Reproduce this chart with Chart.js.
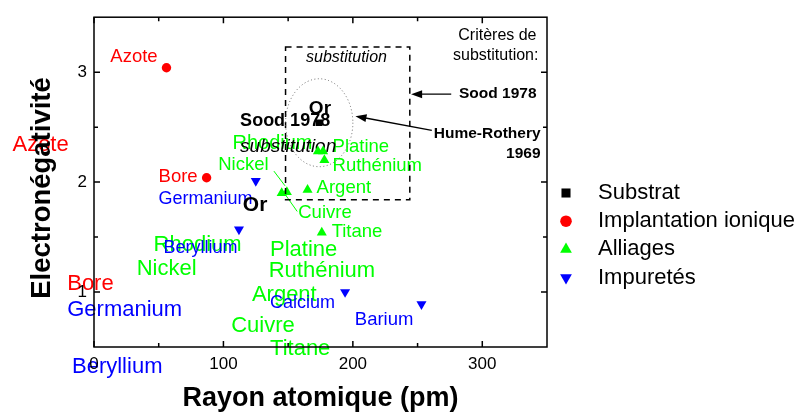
<!DOCTYPE html>
<html>
<head>
<meta charset="utf-8">
<script src="https://cdn.jsdelivr.net/npm/chart.js@4.4.1/dist/chart.umd.min.js"></script>
<style>
  body { margin: 0; background: #fff; }
  canvas { display: block; }
</style>
</head>
<body>
<canvas id="mainChart" width="801" height="414"></canvas>
<script>
var FONT = "'Liberation Sans', Arial, sans-serif";

// points: [rayon atomique (pm), electronegativite]
var substrat = [[174, 2.54]];
var implantation = [[56, 3.04], [87, 2.04]];
var alliages = [[173, 2.28], [177, 2.28], [178, 2.2], [165, 1.93], [145, 1.9], [149, 1.91], [176, 1.54]];
var impuretes = [[125, 2.01], [112, 1.57], [194, 1.0], [253, 0.89]];

var seriesNames = ['Substrat', 'Implantation ionique', 'Alliages', 'Impuretés'];
var seriesColors = ['#000000', '#ff0000', '#00ff00', '#0000ff'];

var xTicks = [0, 100, 200, 300];
var yTicks = [1, 2, 3];
var xMinor = [50, 150, 250];
var yMinor = [1.5, 2.5];

// text annotations: [text, x, y, color, font, align]
var labels = [
  ['Rhodium', 107, 2.35, '#00ff00', '20px'],
  ['Azote', -63, 2.334, '#ff0000', '22px'],
  ['Rhodium', 46, 1.43, '#00ff00', '22px'],
  ['Nickel', 33, 1.21, '#00ff00', '22px'],
  ['Platine', 136, 1.387, '#00ff00', '22px'],
  ['Ruthénium', 135, 1.195, '#00ff00', '22px'],
  ['Argent', 122, 0.972, '#00ff00', '22px'],
  ['Cuivre', 106, 0.69, '#00ff00', '22px'],
  ['Titane', 136, 0.484, '#00ff00', '22px'],
  ['Bore', -20.7, 1.076, '#ff0000', '22px'],
  ['Germanium', -20.7, 0.84, '#0000ff', '22px'],
  ['Beryllium', -17, 0.32, '#0000ff', '22px'],
  ['Azote', 12.6, 3.14, '#ff0000', '18.5px'],
  ['Bore', 49.9, 2.05, '#ff0000', '18.5px'],
  ['Germanium', 49.9, 1.845, '#0000ff', '18px'],
  ['Nickel', 96, 2.156, '#00ff00', '18.5px'],
  ['Platine', 184.3, 2.32, '#00ff00', '18.5px'],
  ['Ruthénium', 184.3, 2.147, '#00ff00', '18.5px'],
  ['Argent', 172, 1.95, '#00ff00', '18.5px'],
  ['Cuivre', 157.8, 1.72, '#00ff00', '18.5px'],
  ['Titane', 183.6, 1.55, '#00ff00', '18.5px'],
  ['Beryllium', 53.7, 1.40, '#0000ff', '18px'],
  ['Calcium', 136, 0.90, '#0000ff', '18px'],
  ['Barium', 201.5, 0.744, '#0000ff', '18.5px'],
  ['Sood 1978', 112.9, 2.556, '#000000', 'bold 18px'],
  ['substitution', 112.9, 2.325, '#000000', 'italic 19px'],
  ['Or', 166, 2.67, '#000000', 'bold 19px'],
  ['Or', 115, 1.787, '#000000', 'bold 21px'],
  ['substitution', 163.8, 3.133, '#000000', 'italic 16px'],
  ['Critères de', 341.9, 3.335, '#000000', '16px', 'right'],
  ['substitution:', 343.4, 3.148, '#000000', '16px', 'right'],
  ['Sood 1978', 341.9, 2.80, '#000000', 'bold 15.5px', 'right'],
  ['Hume-Rothery', 345, 2.438, '#000000', 'bold 15.5px', 'right'],
  ['1969', 345, 2.254, '#000000', 'bold 15.5px', 'right']
];

// leader lines [x1, y1, x2, y2]
var leaders = [[139, 2.10, 147.6, 1.966], [147.6, 1.89, 157, 1.733]];
// Sood box [xmin, xmax, ymin, ymax]
var soodBox = [148, 244, 1.84, 3.23];
// Hume-Rothery ellipse [cx, cy, rx, ry]
var humeEllipse = [174, 2.54, 26, 0.4];
// arrows [fromX, fromY, toX, toY]
var arrows = [[276, 2.80, 245, 2.80], [261, 2.47, 202, 2.60]];

function pts(arr) {
  return arr.map(function (p) { return { x: p[0], y: p[1] }; });
}

function arrow(ctx, x1, y1, x2, y2) {
  var a = Math.atan2(y2 - y1, x2 - x1), len = 11, w = 4;
  ctx.beginPath();
  ctx.moveTo(x1, y1);
  ctx.lineTo(x2 - len * Math.cos(a) * 0.8, y2 - len * Math.sin(a) * 0.8);
  ctx.stroke();
  ctx.beginPath();
  ctx.moveTo(x2, y2);
  ctx.lineTo(x2 - len * Math.cos(a) + w * Math.sin(a), y2 - len * Math.sin(a) - w * Math.cos(a));
  ctx.lineTo(x2 - len * Math.cos(a) - w * Math.sin(a), y2 - len * Math.sin(a) + w * Math.cos(a));
  ctx.closePath();
  ctx.fill();
}

var textPlugin = {
  id: 'texts',
  beforeDraw: function (chart) {
    var ctx = chart.ctx, xs = chart.scales.x, ys = chart.scales.y;
    ctx.save();
    ctx.textBaseline = 'middle';
    labels.forEach(function (l) {
      ctx.font = l[4] + ' ' + FONT;
      ctx.fillStyle = l[3];
      ctx.textAlign = l[5] || 'left';
      ctx.fillText(l[0], xs.getPixelForValue(l[1]), ys.getPixelForValue(l[2]));
    });
    ctx.restore();
  },
  afterDatasetsDraw: function (chart) {
    var ctx = chart.ctx, xs = chart.scales.x, ys = chart.scales.y, a = chart.chartArea;
    var px = function (v) { return xs.getPixelForValue(v); };
    var py = function (v) { return ys.getPixelForValue(v); };
    ctx.save();

    // leader lines
    ctx.strokeStyle = '#00ff00';
    ctx.lineWidth = 1;
    leaders.forEach(function (l) {
      ctx.beginPath();
      ctx.moveTo(px(l[0]), py(l[1]));
      ctx.lineTo(px(l[2]), py(l[3]));
      ctx.stroke();
    });

    // Sood box
    ctx.strokeStyle = '#000';
    ctx.lineWidth = 1.5;
    ctx.setLineDash([6, 5]);
    ctx.strokeRect(px(soodBox[0]), py(soodBox[3]), px(soodBox[1]) - px(soodBox[0]), py(soodBox[2]) - py(soodBox[3]));

    // Hume-Rothery ellipse
    ctx.strokeStyle = '#666';
    ctx.lineWidth = 1;
    ctx.setLineDash([1, 2.5]);
    ctx.beginPath();
    ctx.ellipse(px(humeEllipse[0]), py(humeEllipse[1]),
      px(humeEllipse[0] + humeEllipse[2]) - px(humeEllipse[0]),
      py(humeEllipse[1]) - py(humeEllipse[1] + humeEllipse[3]), 0, 0, Math.PI * 2);
    ctx.stroke();
    ctx.setLineDash([]);

    // arrows
    ctx.strokeStyle = '#000';
    ctx.fillStyle = '#000';
    ctx.lineWidth = 1.3;
    arrows.forEach(function (r) { arrow(ctx, px(r[0]), py(r[1]), px(r[2]), py(r[3])); });

    // frame and inward ticks
    ctx.lineWidth = 1.5;
    ctx.strokeRect(a.left, a.top, a.right - a.left, a.bottom - a.top);
    ctx.beginPath();
    xTicks.concat(xMinor).forEach(function (v) {
      var t = xMinor.indexOf(v) >= 0 ? 4 : 6, x = px(v);
      ctx.moveTo(x, a.bottom); ctx.lineTo(x, a.bottom - t);
      ctx.moveTo(x, a.top); ctx.lineTo(x, a.top + t);
    });
    yTicks.concat(yMinor).forEach(function (v) {
      var t = yMinor.indexOf(v) >= 0 ? 4 : 6, y = py(v);
      ctx.moveTo(a.left, y); ctx.lineTo(a.left + t, y);
      ctx.moveTo(a.right, y); ctx.lineTo(a.right - t, y);
    });
    ctx.stroke();

    // axis titles
    ctx.fillStyle = '#000';
    ctx.font = 'bold 27px ' + FONT;
    ctx.textAlign = 'center';
    ctx.textBaseline = 'alphabetic';
    ctx.fillText('Rayon atomique (pm)', (a.left + a.right) / 2, 406);
    ctx.save();
    ctx.translate(50, 188);
    ctx.rotate(-Math.PI / 2);
    ctx.font = 'bold 27.5px ' + FONT;
    ctx.fillText('Electronégativité', 0, 0);
    ctx.restore();
    ctx.restore();
  },
  afterDraw: function (chart) {
    var ctx = chart.ctx, a = chart.chartArea;
    ctx.save();
    ctx.font = '22px ' + FONT;
    ctx.textBaseline = 'middle';
    ctx.textAlign = 'left';
    var sizes = [6.4, 5.8, 6.8, 6.8];
    chart.data.datasets.forEach(function (ds, i) {
      var y = 193 + i * 28.2;
      ctx.fillStyle = ds.backgroundColor;
      ctx.strokeStyle = ds.backgroundColor;
      Chart.helpers.drawPoint(ctx, { pointStyle: ds.pointStyle, radius: sizes[i], rotation: ds.rotation || 0, borderWidth: 0 }, a.right + 19, y);
      ctx.fillStyle = '#000';
      ctx.fillText(ds.label, a.right + 51, y);
    });
    ctx.restore();
  }
};

function series(i, data, style, radius, rotation) {
  return {
    label: seriesNames[i],
    data: pts(data),
    pointStyle: style,
    rotation: rotation || 0,
    pointRadius: radius,
    pointHoverRadius: radius,
    pointBorderWidth: 0,
    backgroundColor: seriesColors[i],
    borderColor: seriesColors[i]
  };
}

var ctx = document.getElementById('mainChart');
var myChart = new Chart(ctx, {
  type: 'scatter',
  data: {
    datasets: [
      series(0, substrat, 'rect', 4.6),
      series(1, implantation, 'circle', 4.7),
      series(2, alliages, 'triangle', 5.8),
      series(3, impuretes, 'triangle', 5.8, 180)
    ]
  },
  options: {
    responsive: false,
    animation: false,
    layout: { padding: { left: 0, top: 13, right: 254, bottom: 0 } },
    plugins: {
      legend: { display: false },
      tooltip: { enabled: false }
    },
    scales: {
      x: {
        type: 'linear',
        min: 0,
        max: 350,
        grid: { display: false, drawTicks: false },
        border: { display: false },
        afterBuildTicks: function (scale) { scale.ticks = xTicks.map(function (v) { return { value: v }; }); },
        afterFit: function (scale) { scale.height = 67; },
        ticks: { color: '#000', padding: 7, maxRotation: 0, font: { family: FONT, size: 17 } }
      },
      y: {
        type: 'linear',
        min: 0.5,
        max: 3.5,
        grid: { display: false, drawTicks: false },
        border: { display: false },
        afterBuildTicks: function (scale) { scale.ticks = yTicks.map(function (v) { return { value: v }; }); },
        afterFit: function (scale) { scale.width = 94; },
        ticks: { color: '#000', padding: 7, font: { family: FONT, size: 17 } }
      }
    }
  },
  plugins: [textPlugin]
});
</script>
</body>
</html>
